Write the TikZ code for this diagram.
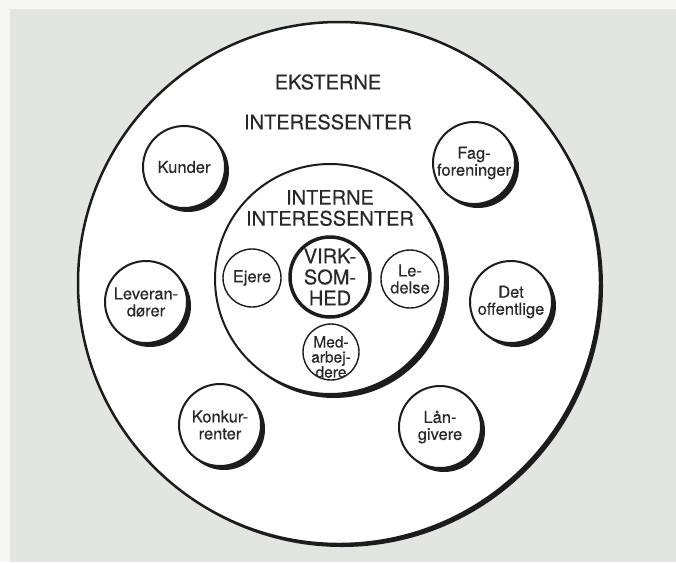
\documentclass[tikz,border=0pt]{standalone}
\usepackage{fontspec}
\setmainfont{TeX Gyre Heros}[FakeBold=0.35]
\usetikzlibrary{shadows}
\definecolor{page}{HTML}{E3E5E1}
\definecolor{margin}{HTML}{F6F6F4}
\definecolor{ink}{HTML}{1C1C1C}
\definecolor{txt}{HTML}{282828}

\begin{document}
\begin{tikzpicture}[x=1pt,y=-1pt,
  ring/.style={circle, draw=ink, fill=white, inner sep=0pt, text=txt, align=center},
  castshadow/.style={drop shadow={shadow xshift=#1, shadow yshift=-#1, fill=ink, opacity=1}},
  bigfont/.style={font=\fontsize{20}{21}\selectfont},
  smallfont/.style={font=\fontsize{16.5}{17}\selectfont},
  tinyfont/.style={font=\fontsize{15.5}{15}\selectfont},
  stake/.style={ring, line width=2pt, minimum size=82pt, castshadow=4pt, smallfont},
  party/.style={ring, line width=1.4pt, minimum size=58pt, smallfont},
  caption/.style={text=txt, bigfont, align=center, inner sep=0pt},
]
% page background
\fill[margin] (0,0) rectangle (676,562);
\fill[page] (10,9) rectangle (676,562);
\useasboundingbox (0,0) rectangle (676,562);

% external stakeholders
\node[ring, line width=2.5pt, minimum size=522pt, castshadow=3pt] (ext) at (339,283) {};
\node[caption] (ekst) at (328,82) {EKSTERNE};
\node[caption] (extint) at (328,122) {INTERESSENTER};

\node[stake] (kunder) at (184,167) {Kunder};
\node[stake] (fag) at (474,163) {Fag-\\foreninger};
\node[stake] (lev) at (146,302) {Leveran-\\dører};
\node[stake] (det) at (511,302) {Det\\offentlige};
\node[stake] (konk) at (220,425) {Konkur-\\renter};
\node[stake] (laan) at (440,427) {Lån-\\givere};

% internal stakeholders
\node[ring, line width=2pt, minimum size=230pt, castshadow=4pt] (int) at (330,279) {};
\node[caption] (intlabel) at (330,208) {INTERNE\\INTERESSENTER};

\node[ring, line width=3.5pt, minimum size=80pt, bigfont] (virk) at (330,277) {VIRK-\\SOM-\\HED};
\node[party] (ejere) at (252,278) {Ejere};
\node[party] (ledelse) at (410,279) {Le-\\delse};
\node[party, minimum size=56pt] (med) at (331,352) {};
\node[text=txt, tinyfont, align=center, inner sep=0pt] (medtext) at (331,357) {Med-\\arbej-\\dere};
\end{tikzpicture}
\end{document}
